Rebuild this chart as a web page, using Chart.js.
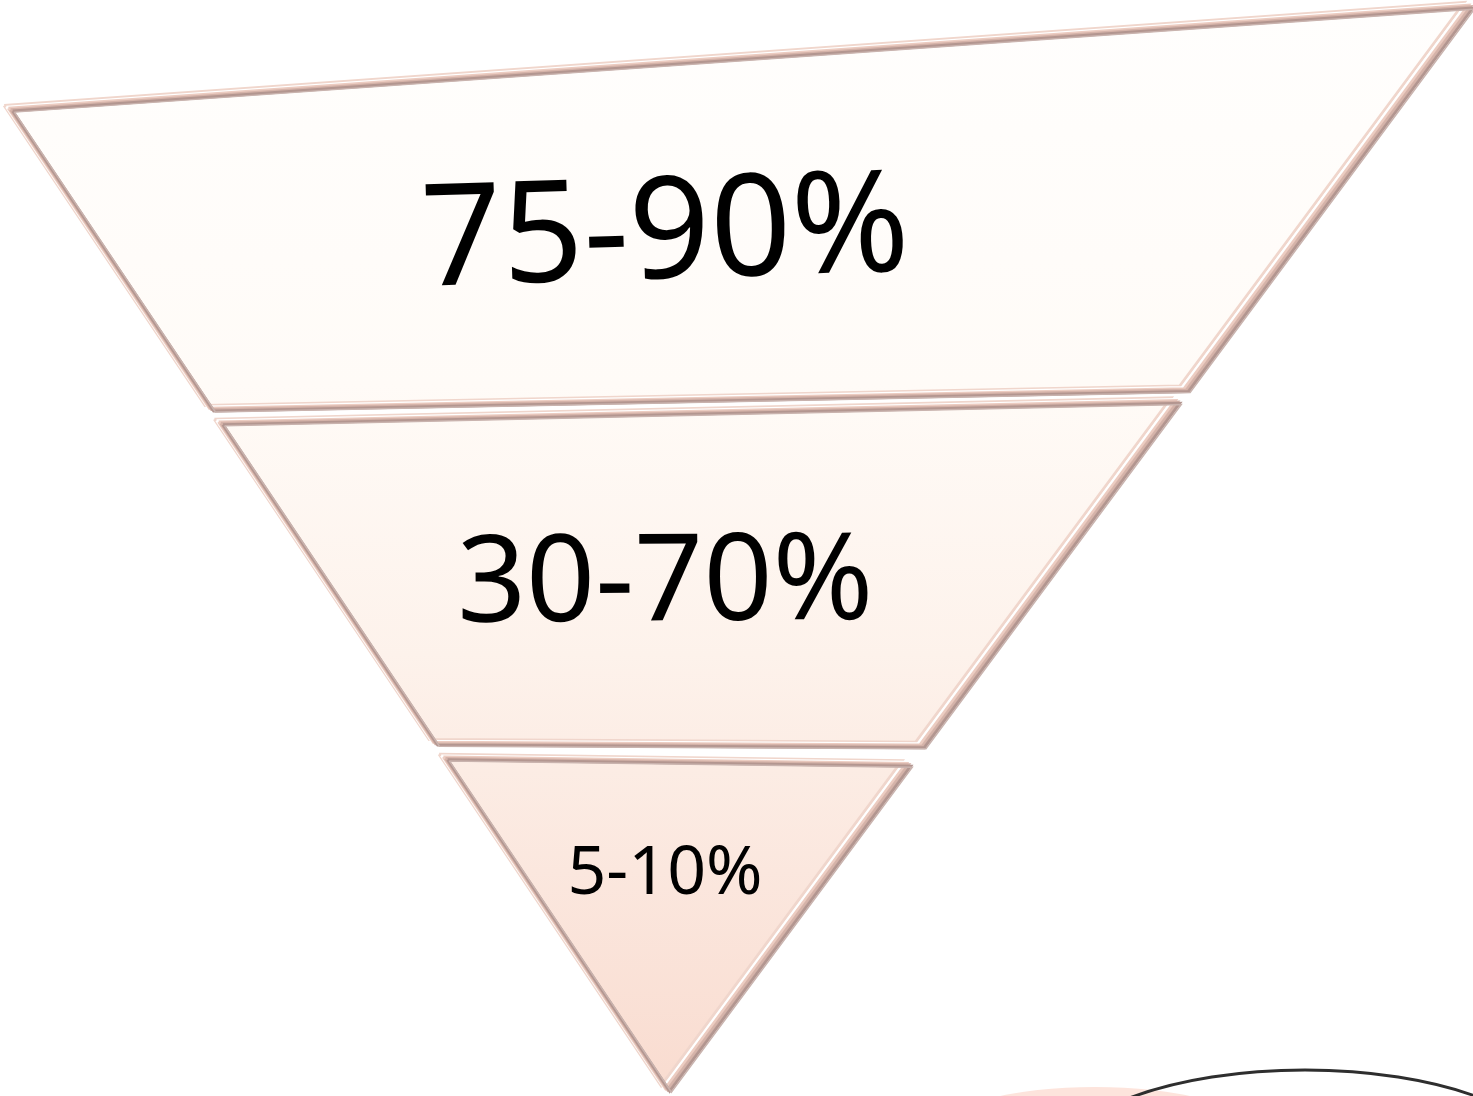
<!DOCTYPE html>
<html>
<head>
<meta charset="utf-8">
<title>Funnel</title>
<script src="https://cdn.jsdelivr.net/npm/chart.js@4.4.1/dist/chart.umd.min.js"></script>
<style>
  html, body { margin: 0; padding: 0; background: #fff; }
  canvas { display: block; }
</style>
</head>
<body>
<canvas id="funnel" width="1473" height="1096"></canvas>
<script>
// stage labels, top to bottom
const stageLabels = ['75-90%', '30-70%', '5-10%'];

// funnel outline: top-left corner, top-right corner, apex
const outlineX = [8, 1468, 665];
const outlineY = [108, 5, 1088];

// where each stage starts / ends along the left and right sides (0 = top edge, 1 = apex)
const leftStart  = [0, 0.320, 0.662];
const leftEnd    = [0.306, 0.647, 1];
const rightStart = [0, 0.365, 0.700];
const rightEnd   = [0.354, 0.683, 1];

// label look per stage
const labelStyle = [
  { size: 142, angle: -1.8 },
  { size: 121, angle: -0.4 },
  { size: 68,  angle: 0 }
];

// bevel is faked with shifted copies of each outline
const bevelShift = { x: 0.85, y: 0.55 };
const bevelLayers = [
  { d: -4.5, width: 3,   color: '#f0d6cc' },
  { d: -2,   width: 2.5, color: '#ffffff' },
  { d: 0.5,  width: 3,   color: '#ecccc1' },
  { d: 3,    width: 3,   color: '#d5b3a9' },
  { d: 5.5,  width: 3,   color: '#b39690' },
  { d: 7.5,  width: 1.5, color: '#c9b3ae' }
];

function sidePoint(side, t) {
  const i = side === 0 ? 0 : 1;
  return {
    x: outlineX[i] + (outlineX[2] - outlineX[i]) * t,
    y: outlineY[i] + (outlineY[2] - outlineY[i]) * t
  };
}

function stagePolygon(k) {
  const pts = [sidePoint(0, leftStart[k]), sidePoint(1, rightStart[k]), sidePoint(1, rightEnd[k])];
  // the last stage closes at the apex, so it only has three corners
  if (leftEnd[k] < 1 || rightEnd[k] < 1) pts.push(sidePoint(0, leftEnd[k]));
  pts.push(pts[0]);
  return pts;
}

// one vertical gradient over the whole funnel
function stageFill(context) {
  const chart = context.chart;
  if (!chart.chartArea) return '#fdf3ec';
  const y = chart.scales.y;
  const g = chart.ctx.createLinearGradient(0, y.getPixelForValue(outlineY[1]), 0, y.getPixelForValue(outlineY[2]));
  g.addColorStop(0, '#fffefd');
  g.addColorStop(0.35, '#fffbf7');
  g.addColorStop(0.6, '#fdf2eb');
  g.addColorStop(0.8, '#fbe7de');
  g.addColorStop(1, '#f9dcd0');
  return g;
}

const datasets = [];
stageLabels.forEach((label, k) => {
  const poly = stagePolygon(k);
  datasets.push({
    label: label,
    data: poly,
    showLine: true,
    fill: 'shape',
    backgroundColor: stageFill,
    borderWidth: 0,
    pointRadius: 0
  });
  bevelLayers.forEach(layer => {
    datasets.push({
      label: label + ' edge',
      data: poly.map(p => ({ x: p.x + layer.d * bevelShift.x, y: p.y + layer.d * bevelShift.y })),
      showLine: true,
      fill: false,
      borderColor: layer.color,
      borderWidth: layer.width,
      borderJoinStyle: 'miter',
      pointRadius: 0
    });
  });
});
// first pushed gets painted first
datasets.forEach((ds, i) => { ds.order = datasets.length - i; });

// the two loose ovals in the lower right corner
const backdrop = {
  id: 'backdrop',
  beforeDatasetsDraw(chart) {
    const { ctx, scales: { x, y } } = chart;
    ctx.save();
    ctx.fillStyle = '#fde4dc';
    ctx.beginPath();
    ctx.ellipse(x.getPixelForValue(1095), y.getPixelForValue(1127), 150, 40, 0, 0, Math.PI * 2);
    ctx.fill();
    ctx.strokeStyle = '#2e2e2e';
    ctx.lineWidth = 3;
    ctx.beginPath();
    ctx.ellipse(x.getPixelForValue(1305), y.getPixelForValue(1170), 253, 100, 0, 0, Math.PI * 2);
    ctx.stroke();
    ctx.restore();
  }
};

const stageText = {
  id: 'stageText',
  afterDatasetsDraw(chart) {
    const { ctx, scales: { x, y } } = chart;
    stageLabels.forEach((label, k) => {
      const poly = stagePolygon(k).slice(0, -1);
      const cy = poly.reduce((s, p) => s + p.y, 0) / poly.length;
      const st = labelStyle[k];
      ctx.save();
      ctx.translate(x.getPixelForValue(outlineX[2]), y.getPixelForValue(cy));
      ctx.rotate(st.angle * Math.PI / 180);
      ctx.font = st.size + 'px "Noto Sans", "Open Sans", sans-serif';
      ctx.fillStyle = '#000';
      ctx.textAlign = 'center';
      ctx.textBaseline = 'alphabetic';
      ctx.fillText(label, 0, st.size * 0.357);
      ctx.restore();
    });
  }
};

new Chart(document.getElementById('funnel').getContext('2d'), {
  type: 'scatter',
  data: { datasets: datasets },
  options: {
    responsive: false,
    animation: false,
    devicePixelRatio: 1,
    layout: { padding: 0 },
    scales: {
      x: { type: 'linear', min: 0, max: 1473, display: false },
      y: { type: 'linear', min: 0, max: 1096, reverse: true, display: false }
    },
    plugins: {
      legend: { display: false },
      tooltip: { enabled: false }
    }
  },
  plugins: [backdrop, stageText]
});
</script>
</body>
</html>
